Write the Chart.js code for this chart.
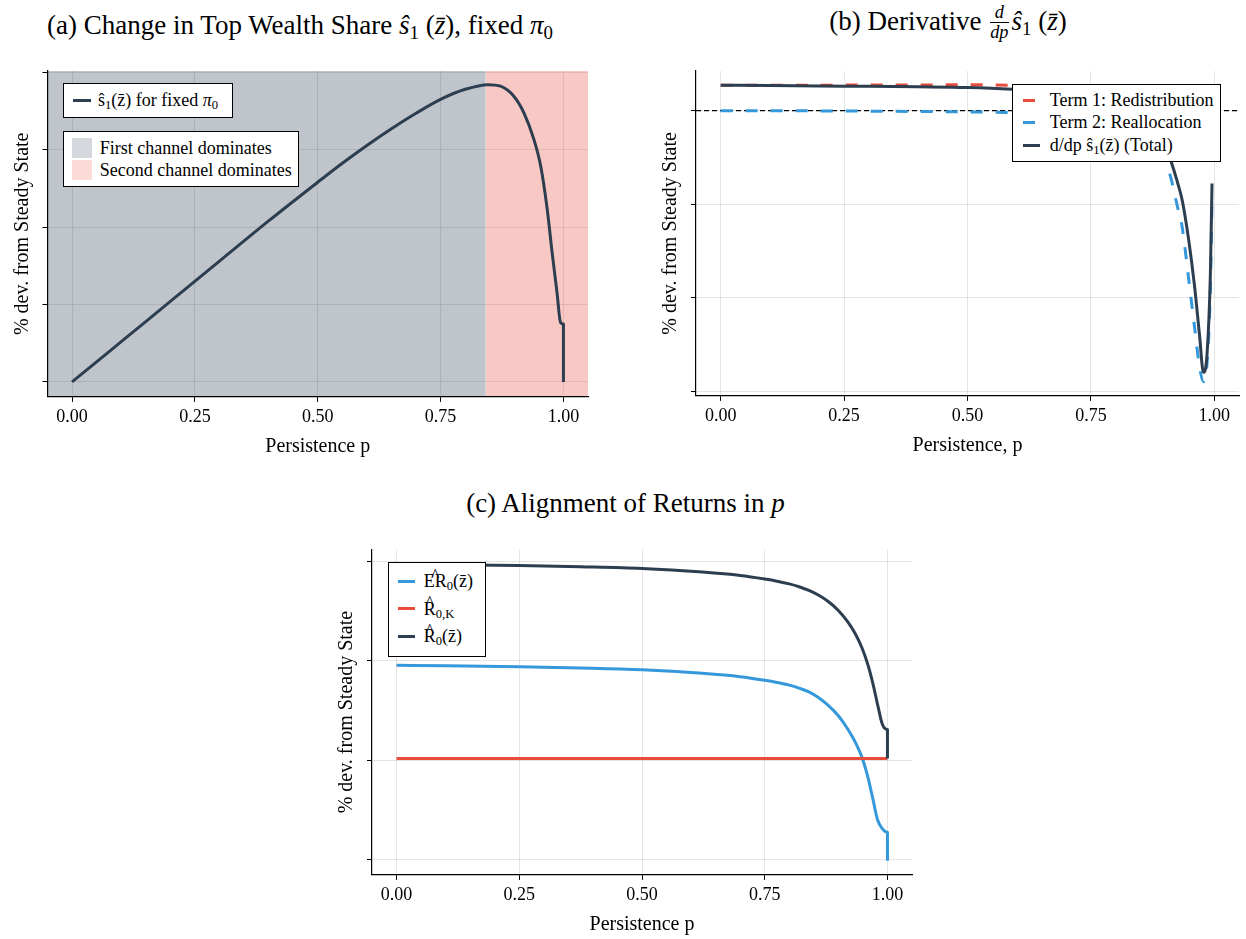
<!DOCTYPE html>
<html lang="en">
<head>
<meta charset="utf-8">
<title>Top wealth share and persistence</title>
<script src="https://cdn.jsdelivr.net/npm/chart.js@4.4.1/dist/chart.umd.min.js"></script>
<style>
  html, body { margin: 0; padding: 0; background: #fff; }
  #page { position: relative; width: 1246px; height: 939px; overflow: hidden;
          font-family: 'Liberation Serif', 'Times New Roman', serif; color: #000; }
  canvas { position: absolute; }
  .ttl { position: absolute; height: 32px; line-height: 32px; font-size: 27px; text-align: center; white-space: nowrap; }
  .ttl sub, .legend sub { font-size: 0.7em; vertical-align: -0.25em; line-height: 0; }
  .frac { display: inline-block; vertical-align: -0.45em; font-size: 0.68em; line-height: 1.05; text-align: center; margin: 0 3px 0 2px; }
  .frac > span { display: block; }
  .frac > span:first-child { border-bottom: 1px solid #000; }
  .legend { position: absolute; box-sizing: border-box; border: 1.3px solid #000; background: #fff; font-size: 18px; }
  .row { position: absolute; left: 0; width: 100%; height: 22px; }
  .key { position: absolute; top: 9.5px; height: 3px; }
  .swatch { position: absolute; width: 20px; height: 20px; }
  .lbl { position: absolute; top: 0; line-height: 22px; white-space: nowrap; }
  .hat { position: relative; display: inline-block; }
  .hat::after { content: '^'; position: absolute; left: 0; right: 0; top: -0.2em; text-align: center; line-height: 1; }
</style>
</head>
<body>
<div id="page">
  <div class="ttl" style="left:0;top:9px;width:600px">(a) Change in Top Wealth Share <i>ŝ</i><sub>1</sub> (<i>z&#772;</i>), fixed <i>π</i><sub>0</sub></div>
  <div class="ttl" style="left:660px;top:3px;width:576px">(b) Derivative <span class="frac"><span><i>d</i></span><span><i>dp</i></span></span><i>ŝ</i><sub>1</sub> (<i>z&#772;</i>)</div>
  <div class="ttl" style="left:325px;top:487px;width:601px">(c) Alignment of Returns in <i>p</i></div>

  <canvas id="panelA" width="600" height="403" style="left:0;top:60px"></canvas>
  <canvas id="panelB" width="595" height="402" style="left:650px;top:60px"></canvas>
  <canvas id="panelC" width="593" height="402" style="left:325px;top:539px"></canvas>

  <div class="legend" style="left:63px;top:83px;width:170px;height:35px">
    <div class="row" style="top:5.4px">
      <span class="key" style="left:9px;width:17.5px;background:#2c3e50"></span>
      <span class="lbl" style="left:34px">ŝ<sub>1</sub>(z&#772;) for fixed <i>π</i><sub>0</sub></span>
    </div>
  </div>
  <div class="legend" style="left:63px;top:131px;width:236px;height:56px">
    <span class="swatch" style="left:8px;top:6px;background:#d5d8dc"></span>
    <span class="swatch" style="left:8px;top:27.7px;background:#fadbd8"></span>
    <div class="row" style="top:5px"><span class="lbl" style="left:35.7px">First channel dominates</span></div>
    <div class="row" style="top:26.7px"><span class="lbl" style="left:35.7px">Second channel dominates</span></div>
  </div>

  <div class="legend" style="left:1012.3px;top:84px;width:208.4px;height:78.3px">
    <div class="row" style="top:4.4px">
      <span class="key" style="left:9.7px;width:12px;background:#e74c3c"></span>
      <span class="lbl" style="left:36.4px">Term 1: Redistribution</span>
    </div>
    <div class="row" style="top:26.4px">
      <span class="key" style="left:9.7px;width:12px;background:#3498db"></span>
      <span class="lbl" style="left:36.4px">Term 2: Reallocation</span>
    </div>
    <div class="row" style="top:49.4px">
      <span class="key" style="left:9.7px;width:17px;background:#2c3e50"></span>
      <span class="lbl" style="left:36.4px">d/dp ŝ<sub>1</sub>(z&#772;) (Total)</span>
    </div>
  </div>

  <div class="legend" style="left:387.7px;top:561.7px;width:98px;height:95.6px">
    <div class="row" style="top:7.7px">
      <span class="key" style="left:9.3px;width:16.7px;background:#3498db"></span>
      <span class="lbl" style="left:35px"><span class="hat">ER</span><sub>0</sub>(z&#772;)</span>
    </div>
    <div class="row" style="top:35.3px">
      <span class="key" style="left:9.3px;width:16.7px;background:#e74c3c"></span>
      <span class="lbl" style="left:35px"><span class="hat">R</span><sub>0,K</sub></span>
    </div>
    <div class="row" style="top:62.7px">
      <span class="key" style="left:9.3px;width:16.7px;background:#2c3e50"></span>
      <span class="lbl" style="left:35px"><span class="hat">R</span><sub>0</sub>(z&#772;)</span>
    </div>
  </div>
</div>

<script>
// shared persistence axis
const xLimits = [-0.05, 1.05];
const xTickValues = [0, 0.25, 0.5, 0.75, 1.0];
const xTickLabels = ['0.00', '0.25', '0.50', '0.75', '1.00'];

// (a) top wealth share response, fixed pi_0
const persistA = [0, 0.1, 0.2, 0.3, 0.4, 0.5, 0.55, 0.6, 0.65, 0.7, 0.75, 0.8, 0.846, 0.872, 0.899, 0.92, 0.94, 0.954, 0.967, 0.977, 0.987, 0.994, 1.0, 1.0];
const topShareA = [0, 0.52, 1.04, 1.56, 2.08, 2.58, 2.825, 3.055, 3.27, 3.47, 3.65, 3.78, 3.84, 3.82, 3.69, 3.47, 3.13, 2.78, 2.23, 1.67, 1.15, 0.77, 0.75, 0];
const channelSwitchP = 0.842;
const yLimitsA = [-0.193, 4.02];
const yTicksA = [0, 1, 2, 3, 4];

// (b) derivative and its two terms
const persistB = [0, 0.1, 0.25, 0.4, 0.5, 0.59, 0.7, 0.8, 0.85, 0.88, 0.9, 0.911, 0.925, 0.935, 0.948, 0.96, 0.97, 0.978, 0.985, 0.992, 0.9953];
const redistributionB = [0.271, 0.272, 0.273, 0.275, 0.276, 0.272, 0.255, 0.245, 0.24, 0.235, 0.23, 0.23, 0.225, 0.22, 0.215, 0.21, 0.205, 0.2, 0.2, 0.195, 0.19];
const reallocationB = [0, -0.001, -0.004, -0.009, -0.013, -0.021, -0.05, -0.12, -0.22, -0.36, -0.54, -0.70, -1.02, -1.25, -1.80, -2.32, -2.74, -2.90, -2.72, -1.92, -0.98];
const totalB = [0.271, 0.269, 0.262, 0.255, 0.248, 0.23, 0.19, 0.09, -0.03, -0.18, -0.36, -0.52, -0.76, -0.96, -1.38, -1.88, -2.40, -2.80, -2.62, -1.75, -0.78];
const yLimitsB = [-3.052, 0.424];
const yTicksB = [-3, -2, -1, 0];

// (c) returns
const persistC = [0, 0.1, 0.25, 0.375, 0.5, 0.623, 0.7, 0.75, 0.775, 0.8, 0.82, 0.84, 0.86, 0.88, 0.9, 0.92, 0.935, 0.948, 0.96, 0.97, 0.98, 0.9898, 1.0, 1.0];
const expectedReturnC = [0.956, 0.951, 0.941, 0.929, 0.911, 0.875, 0.841, 0.805, 0.783, 0.756, 0.726, 0.689, 0.63, 0.55, 0.448, 0.308, 0.178, 0.032, -0.166, -0.381, -0.601, -0.69, -0.725, -1.01];
const capitalReturnC = [0.017, 0.017, 0.017, 0.017, 0.017, 0.017, 0.017, 0.017, 0.017, 0.017, 0.017, 0.017, 0.017, 0.017, 0.017, 0.017, 0.017, 0.017, 0.017, 0.017, 0.017, 0.017, 0.017, 0.017];
const realizedReturnC = [1.973, 1.968, 1.9605, 1.948, 1.9305, 1.8935, 1.859, 1.8235, 1.802, 1.775, 1.746, 1.709, 1.66, 1.595, 1.508, 1.388, 1.268, 1.132, 0.964, 0.779, 0.559, 0.36, 0.31, 0.017];
const yLimitsC = [-1.153, 2.123];
const yTicksC = [-1, 0, 1, 2];

const navy = '#2c3e50';
const sky = '#3498db';
const coral = '#e74c3c';
const gridColor = 'rgba(0, 0, 0, 0.1)';

Chart.defaults.font.family = "'Liberation Serif', 'Times New Roman', serif";
Chart.defaults.font.size = 18;
Chart.defaults.color = '#000';

function toPoints(xs, ys) {
    return xs.map(function (x, i) { return { x: x, y: ys[i] }; });
}

function curve(xs, ys, color, dash, order) {
    return {
        data: toPoints(xs, ys),
        borderColor: color,
        borderWidth: 3,
        borderDash: dash,
        borderJoinStyle: 'round',
        pointRadius: 0,
        fill: false,
        cubicInterpolationMode: 'monotone',
        order: order
    };
}

// shaded region spanning the full plot height between x0 and x1
function band(x0, x1, top, color) {
    return {
        data: [{ x: x0, y: top }, { x: x1, y: top }],
        borderWidth: 0,
        borderColor: 'rgba(0, 0, 0, 0)',
        backgroundColor: color,
        pointRadius: 0,
        fill: 'start',
        order: 5
    };
}

function buildScales(yLimits, yTicks, xTitle) {
    return {
        x: {
            type: 'linear',
            min: xLimits[0],
            max: xLimits[1],
            afterBuildTicks: function (axis) { axis.ticks = xTickValues.map(function (v) { return { value: v }; }); },
            ticks: { autoSkip: false, maxRotation: 0, padding: 5, callback: function (v, i) { return xTickLabels[i]; } },
            grid: { color: gridColor, tickColor: '#000', tickLength: 5 },
            border: { color: '#000', width: 1.2, z: 1 },
            title: { display: true, text: xTitle, font: { size: 20 }, padding: { top: 1.5, bottom: 4 } }
        },
        y: {
            type: 'linear',
            min: yLimits[0],
            max: yLimits[1],
            afterBuildTicks: function (axis) { axis.ticks = yTicks.map(function (v) { return { value: v }; }); },
            ticks: { display: false },
            grid: { color: gridColor, tickColor: '#000', tickLength: 5 },
            border: { color: '#000', width: 1.2, z: 1 },
            title: { display: true, text: '% dev. from Steady State', font: { size: 20 }, padding: { top: 0, bottom: 8 } }
        }
    };
}

function buildChart(id, datasets, yLimits, yTicks, xTitle, padding) {
    return new Chart(document.getElementById(id), {
        type: 'line',
        data: { datasets: datasets },
        options: {
            responsive: false,
            animation: false,
            devicePixelRatio: 1,
            layout: { padding: padding },
            plugins: { legend: { display: false }, tooltip: { enabled: false } },
            scales: buildScales(yLimits, yTicks, xTitle)
        }
    });
}

buildChart('panelA', [
    curve(persistA, topShareA, navy, [], 0),
    band(xLimits[0], channelSwitchP, yLimitsA[1], 'rgba(44, 62, 80, 0.3)'),
    band(channelSwitchP, xLimits[1], yLimitsA[1], 'rgba(231, 76, 60, 0.3)')
], yLimitsA, yTicksA, 'Persistence p', { left: 10.5, right: 12, top: 10.7, bottom: 0 });

const zeroLine = curve(xLimits, [0, 0], '#000', [5, 3], 9);
zeroLine.borderWidth = 1.2;

buildChart('panelB', [
    curve(persistB, totalB, navy, [], 0),
    curve(persistB, reallocationB, sky, [12, 13], 1),
    curve(persistB, redistributionB, coral, [12, 13], 2),
    zeroLine
], yLimitsB, yTicksB, 'Persistence, p', { left: 9, right: 6, top: 11, bottom: 0 });

buildChart('panelC', [
    curve(persistC, realizedReturnC, navy, [], 0),
    curve(persistC, capitalReturnC, coral, [], 1),
    curve(persistC, expectedReturnC, sky, [], 2)
], yLimitsC, yTicksC, 'Persistence p', { left: 10, right: 6, top: 10.3, bottom: 0 });
</script>
</body>
</html>
